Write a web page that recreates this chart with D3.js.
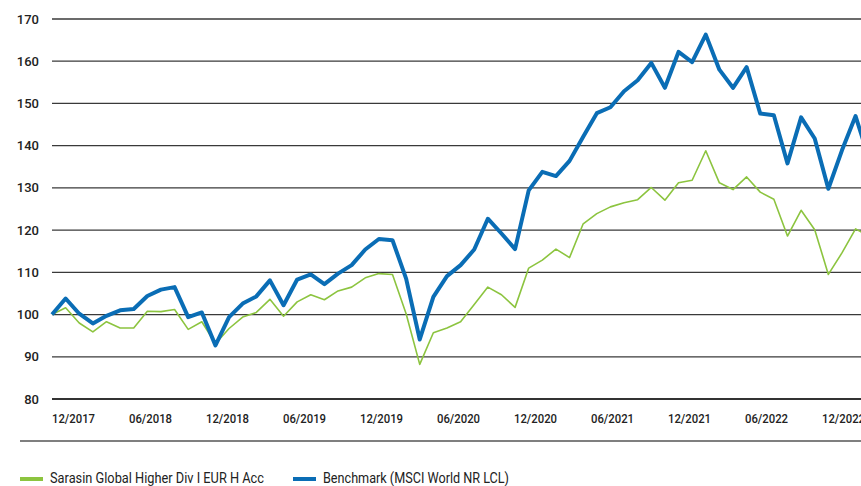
<!DOCTYPE html>
<html>
<head>
<meta charset="utf-8">
<script src="https://cdn.jsdelivr.net/npm/d3@7"></script>
<style>
  html, body { margin: 0; padding: 0; background: #fff; }
  svg { display: block; }
  text { font-family: Roboto, "Liberation Sans", Arial, sans-serif; fill: #222; }
</style>
</head>
<body>
<svg id="chart" width="861" height="486"></svg>
<script>
// Monthly performance, indexed to 100 at 12/2017
const fundName = "Sarasin Global Higher Div I EUR H Acc";
const benchName = "Benchmark (MSCI World NR LCL)";

const fundValues = [
  100.0, 101.6, 98.0, 95.9, 98.3, 96.8, 96.8, 100.8, 100.7, 101.2,
  96.5, 98.3, 93.1, 96.7, 99.4, 100.5, 103.6, 99.6, 103.0, 104.7,
  103.5, 105.6, 106.5, 108.7, 109.7, 109.5, 100.2, 88.2, 95.7, 96.8,
  98.3, 102.4, 106.5, 104.7, 101.7, 111.0, 112.9, 115.5, 113.5, 121.5,
  123.9, 125.5, 126.5, 127.2, 130.1, 127.1, 131.2, 131.8, 138.8, 131.2,
  129.6, 132.6, 129.0, 127.3, 118.6, 124.7, 120.1, 109.5, 114.6, 120.3,
  118.5
];

const benchValues = [
  100.0, 103.8, 100.2, 97.9, 99.7, 101.0, 101.3, 104.4, 105.9, 106.5,
  99.4, 100.5, 92.7, 99.4, 102.6, 104.3, 108.1, 102.2, 108.3, 109.5,
  107.2, 109.7, 111.7, 115.4, 117.9, 117.6, 108.5, 94.1, 104.2, 109.1,
  111.7, 115.4, 122.7, 119.2, 115.5, 129.4, 133.8, 132.8, 136.4, 142.1,
  147.7, 149.1, 152.9, 155.5, 159.6, 153.7, 162.2, 159.8, 166.3, 158.0,
  153.7, 158.6, 147.6, 147.2, 135.8, 146.7, 141.7, 129.8, 138.9, 147.0,
  136.7
];

const xTickLabels = ["12/2017", "06/2018", "12/2018", "06/2019", "12/2019",
  "06/2020", "12/2020", "06/2021", "12/2021", "06/2022", "12/2022"];

const yTicks = [80, 90, 100, 110, 120, 130, 140, 150, 160, 170];

const fundColor = "#8cc43f";
const benchColor = "#0a6db5";

const svg = d3.select("#chart");

const x = d3.scaleLinear().domain([0, 60]).range([52, 52 + 60 * 13.62]);
const y = d3.scaleLinear().domain([80, 170]).range([399, 19]);
// tick labels are spread evenly along the axis
const xLabel = d3.scaleLinear().domain([0, xTickLabels.length - 1]).range([52, 822]);

// horizontal grid
svg.append("g")
  .selectAll("line")
  .data(yTicks.filter(v => v > 80))
  .join("line")
  .attr("x1", 52).attr("x2", 861)
  .attr("y1", d => y(d)).attr("y2", d => y(d))
  .attr("stroke", "#3a3a3a")
  .attr("stroke-width", 1.3);

// baseline
svg.append("line")
  .attr("x1", 52).attr("x2", 861)
  .attr("y1", y(80)).attr("y2", y(80))
  .attr("stroke", "#333")
  .attr("stroke-width", 2.2);

// y axis labels
svg.append("g")
  .selectAll("text")
  .data(yTicks)
  .join("text")
  .attr("x", 39)
  .attr("y", d => y(d))
  .attr("dy", "0.35em")
  .attr("text-anchor", "end")
  .attr("font-size", 13)
  .attr("font-weight", 500)
  .text(d => d);

// x axis labels
svg.append("g")
  .selectAll("text")
  .data(xTickLabels)
  .join("text")
  .attr("x", (d, i) => xLabel(i))
  .attr("y", 423)
  .attr("font-size", 12.4)
  .attr("font-weight", 500)
  .attr("textLength", 43)
  .attr("lengthAdjust", "spacingAndGlyphs")
  .text(d => d);

// separator above legend
svg.append("line")
  .attr("x1", 20).attr("x2", 861)
  .attr("y1", 441).attr("y2", 441)
  .attr("stroke", "#555")
  .attr("stroke-width", 1.3);

const line = d3.line()
  .x((d, i) => x(i))
  .y(d => y(d));

svg.append("path")
  .datum(fundValues)
  .attr("d", line)
  .attr("fill", "none")
  .attr("stroke", fundColor)
  .attr("stroke-width", 1.6)
  .attr("stroke-linejoin", "round");

svg.append("path")
  .datum(benchValues)
  .attr("d", line)
  .attr("fill", "none")
  .attr("stroke", benchColor)
  .attr("stroke-width", 4)
  .attr("stroke-linejoin", "round");

// legend
const legendItems = [
  { name: fundName, color: fundColor, x: 20, width: 214 },
  { name: benchName, color: benchColor, x: 293, width: 186 }
];
const lg = svg.append("g").selectAll("g").data(legendItems).join("g")
  .attr("transform", d => `translate(${d.x},479)`);
lg.append("line")
  .attr("x1", 0).attr("x2", 23)
  .attr("y1", 0).attr("y2", 0)
  .attr("stroke", d => d.color)
  .attr("stroke-width", 4);
lg.append("text")
  .attr("x", 30)
  .attr("y", 4.3)
  .attr("font-size", 14.5)
  .attr("textLength", d => d.width)
  .attr("lengthAdjust", "spacingAndGlyphs")
  .text(d => d.name);
</script>
</body>
</html>
